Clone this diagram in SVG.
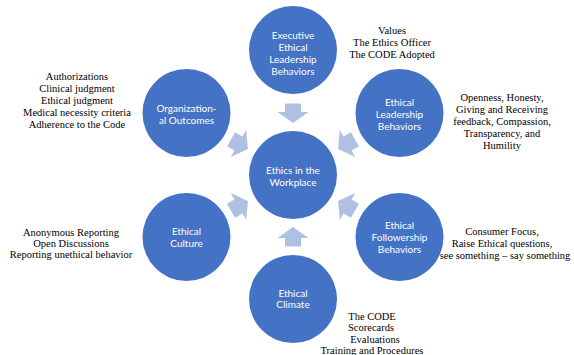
<svg xmlns="http://www.w3.org/2000/svg" width="574" height="355" viewBox="0 0 574 355">
<defs>
<style>
.node{fill:#4472C4}
.lbl{font-family:Lato,"Open Sans",sans-serif;font-size:10px;fill:#ffffff;text-anchor:middle}
.note{font-family:"Liberation Serif","Times New Roman",serif;font-size:10.5px;fill:#000000;text-anchor:middle}
.arr{fill:#AFC0E3}
</style>
<path id="ar" d="M-8,-9.5 L8,-9.5 L8,-1 L15.5,-1 L0,10 L-15.5,-1 L-8,-1 Z"/>
</defs>
<rect width="574" height="355" fill="#ffffff"/>
<g id="connectors" class="arr">
<use href="#ar" transform="translate(293,175) rotate(0) translate(0,-62)"/>
<use href="#ar" transform="translate(293,175) rotate(60) translate(0,-62)"/>
<use href="#ar" transform="translate(293,175) rotate(-60) translate(0,-62)"/>
<use href="#ar" transform="translate(293,175) rotate(120) translate(0,-62)"/>
<use href="#ar" transform="translate(293,175) rotate(-120) translate(0,-62)"/>
<use href="#ar" transform="translate(293,175) rotate(180) translate(0,-62)"/>
</g>
<g id="center">
<circle class="node" cx="293" cy="175" r="44"/>
<text class="lbl" x="293" y="173.5">Ethics in the</text>
<text class="lbl" x="293" y="185.5">Workplace</text>
</g>
<g id="executive">
<circle class="node" cx="293" cy="50" r="44"/>
<text class="lbl" x="293" y="38.5">Executive</text>
<text class="lbl" x="293" y="50.5">Ethical</text>
<text class="lbl" x="293" y="62.5">Leadership</text>
<text class="lbl" x="293" y="74.5">Behaviors</text>
</g>
<g id="leadership">
<circle class="node" cx="399.5" cy="113" r="44"/>
<text class="lbl" x="399.5" y="105.5">Ethical</text>
<text class="lbl" x="399.5" y="117.5">Leadership</text>
<text class="lbl" x="399.5" y="129.5">Behaviors</text>
</g>
<g id="outcomes">
<circle class="node" cx="186.5" cy="113" r="44"/>
<text class="lbl" x="186.5" y="112">Organization-</text>
<text class="lbl" x="186.5" y="124">al Outcomes</text>
</g>
<g id="culture">
<circle class="node" cx="186.5" cy="237" r="44"/>
<text class="lbl" x="186.5" y="235">Ethical</text>
<text class="lbl" x="186.5" y="247">Culture</text>
</g>
<g id="followership">
<circle class="node" cx="399.5" cy="237" r="44"/>
<text class="lbl" x="399.5" y="229">Ethical</text>
<text class="lbl" x="399.5" y="241">Followership</text>
<text class="lbl" x="399.5" y="253">Behaviors</text>
</g>
<g id="climate">
<circle class="node" cx="293" cy="299" r="44"/>
<text class="lbl" x="293" y="296.5">Ethical</text>
<text class="lbl" x="293" y="307.5">Climate</text>
</g>
<g id="notes">
<text class="note" x="392" y="34">Values</text>
<text class="note" x="392" y="46">The Ethics Officer</text>
<text class="note" x="392" y="57.5">The CODE Adopted</text>
<text class="note" x="77" y="79.5">Authorizations</text>
<text class="note" x="77" y="91.5">Clinical judgment</text>
<text class="note" x="77" y="104">Ethical judgment</text>
<text class="note" x="77" y="116">Medical necessity criteria</text>
<text class="note" x="77" y="127.5">Adherence to the Code</text>
<text class="note" x="502" y="100.5">Openness, Honesty,</text>
<text class="note" x="502" y="112.5">Giving and Receiving</text>
<text class="note" x="502" y="125">feedback, Compassion,</text>
<text class="note" x="502" y="136.5">Transparency, and</text>
<text class="note" x="502" y="148.5">Humility</text>
<text class="note" x="71" y="235.5">Anonymous Reporting</text>
<text class="note" x="71" y="246.5">Open Discussions</text>
<text class="note" x="71" y="257.5">Reporting unethical behavior</text>
<text class="note" x="502" y="234.5">Consumer Focus,</text>
<text class="note" x="502" y="246.5">Raise Ethical questions,</text>
<text class="note" x="505" y="258.5">see something – say something</text>
<text class="note" x="372" y="319.5">The CODE</text>
<text class="note" x="371" y="331">Scorecards</text>
<text class="note" x="375" y="342.5">Evaluations</text>
<text class="note" x="372" y="354">Training and Procedures</text>
</g>
</svg>
